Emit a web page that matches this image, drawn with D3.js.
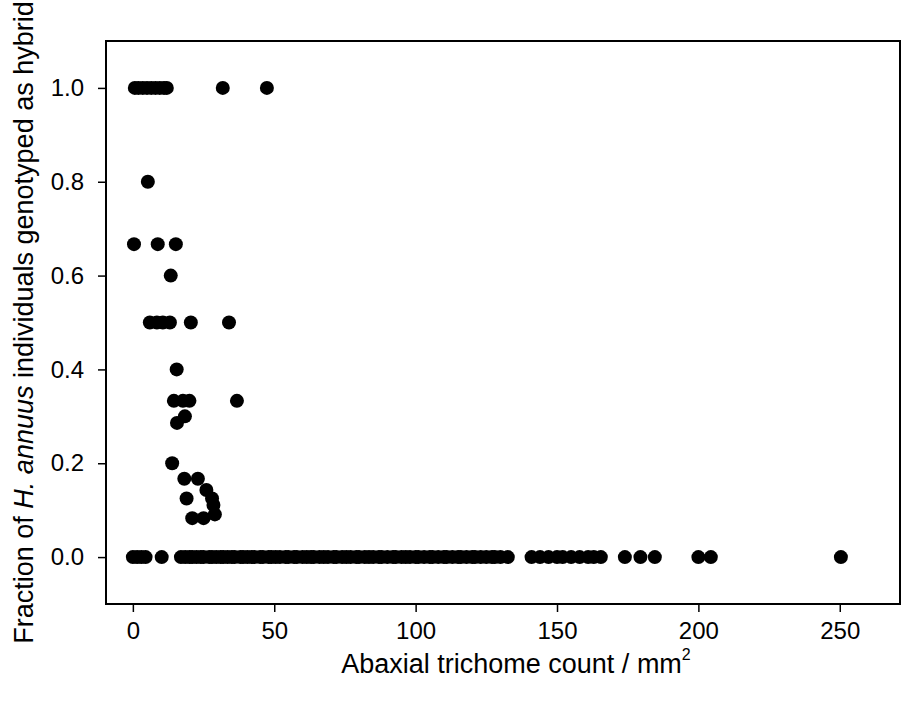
<!DOCTYPE html>
<html>
<head>
<meta charset="utf-8">
<script src="https://cdnjs.cloudflare.com/ajax/libs/d3/7.8.5/d3.min.js"></script>
<style>
  body { margin: 0; background: #fff; }
  text { font-family: Arial, "Liberation Sans", sans-serif; fill: #000; }
</style>
</head>
<body>
<div id="container"></div>
<script>
// fraction of H. annuus genotyped as hybrid, one entry per level
var fractionLevels = [1.0, 0.8, 0.667, 0.6, 0.5, 0.4, 0.333, 0.3, 0.286, 0.2,
                      0.167, 0.143, 0.125, 0.111, 0.091, 0.083, 0.0];

// trichome counts (per mm2) of the points at each level
var countsAtLevel = [
  [0.7, 2, 3.5, 5, 6.5, 8, 9.5, 11, 12, 31.8, 47.4],
  [5.3],
  [0.4, 8.8, 15.2],
  [13.4],
  [6, 8.5, 10.6, 13.1, 20.5, 34],
  [15.5],
  [14.5, 17.7, 20, 36.8],
  [18.4],
  [15.6],
  [13.9],
  [18.2, 23],
  [26],
  [19, 28],
  [28.5],
  [29],
  [21, 25],
  [0, 1.5, 3, 4.5, 10.2,
   17, 18.5, 20, 21, 22.5, 24, 25, 27, 28, 29.5, 31, 32, 33.5, 35, 36, 38, 39,
   40.5, 42, 43, 45, 46, 48, 49, 50.5, 52, 54, 55, 57, 58, 60, 61.5, 63, 64,
   66, 67.5, 69, 71, 72, 74, 75.5, 77, 79, 80, 82, 83.5, 85, 87, 88, 90, 92,
   93, 95, 96.5, 98, 100, 101, 103, 105, 106, 108, 110, 111, 113, 115, 116,
   118, 120, 121, 123, 125, 127, 128, 130, 132.6,
   141, 144, 147, 150, 152, 155, 158, 161, 163, 165.5,
   174, 179.5, 184.6, 200, 204.4, 250.4]
];

var xTicks = [0, 50, 100, 150, 200, 250];
var yTicks = [0.0, 0.2, 0.4, 0.6, 0.8, 1.0];

var points = [];
fractionLevels.forEach(function(f, i) {
  countsAtLevel[i].forEach(function(c) { points.push({count: c, fraction: f}); });
});

var width = 902, height = 704;
var plotLeft = 106, plotRight = 900, plotTop = 41, plotBottom = 604;

var svg = d3.select("#container").append("svg")
            .attr("width", width).attr("height", height);

var x = d3.scaleLinear().domain([-9.5, 271.3]).range([plotLeft, plotRight]);
var y = d3.scaleLinear().domain([-0.1, 1.1]).range([plotBottom, plotTop]);

svg.append("g").attr("transform", "translate(0," + plotBottom + ")")
   .call(d3.axisBottom(x).tickValues(xTicks).tickFormat(d3.format("d"))
           .tickSize(8).tickPadding(10))
   .call(function(g) {
     g.select(".domain").remove();
     g.selectAll("line").attr("stroke", "#000").attr("stroke-width", 1.5);
     g.selectAll("text").attr("font-size", 24).attr("font-family", null);
   });

svg.append("g").attr("transform", "translate(" + plotLeft + ",0)")
   .call(d3.axisLeft(y).tickValues(yTicks).tickFormat(d3.format(".1f"))
           .tickSize(8).tickPadding(14))
   .call(function(g) {
     g.select(".domain").remove();
     g.selectAll("line").attr("stroke", "#000").attr("stroke-width", 1.5);
     g.selectAll("text").attr("font-size", 24).attr("font-family", null);
   });

svg.append("rect")
   .attr("x", plotLeft).attr("y", plotTop)
   .attr("width", plotRight - plotLeft).attr("height", plotBottom - plotTop)
   .attr("fill", "none").attr("stroke", "#000").attr("stroke-width", 2);

svg.append("g").selectAll("circle")
   .data(points)
   .enter().append("circle")
   .attr("cx", function(d) { return x(d.count); })
   .attr("cy", function(d) { return y(d.fraction); })
   .attr("r", 7)
   .attr("fill", "#000");

// axis titles
var xt = svg.append("text")
   .attr("x", 516).attr("y", 673)
   .attr("text-anchor", "middle").attr("font-size", 27);
xt.append("tspan").text("Abaxial trichome count / mm");
xt.append("tspan").attr("dy", -13).attr("font-size", 16).text("2");

var yt = svg.append("text")
   .attr("transform", "translate(33," + (plotTop + plotBottom) / 2 + ") rotate(-90)")
   .attr("text-anchor", "middle").attr("font-size", 27);
yt.append("tspan").text("Fraction of ");
yt.append("tspan").attr("font-style", "italic").text("H. annuus");
yt.append("tspan").text(" individuals genotyped as hybrid");
</script>
</body>
</html>
